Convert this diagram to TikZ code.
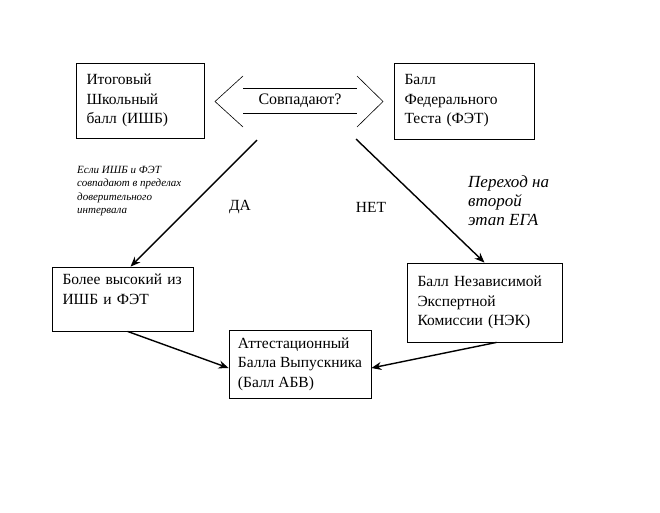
\documentclass[tikz,border=0pt]{standalone}
\usepackage{fontspec}
\setmainfont{Liberation Serif}
\usetikzlibrary{arrows.meta}

\begin{document}
\begin{tikzpicture}[x=1pt, y=-1pt,
    box/.style={draw, line width=0.8pt, align=left, inner xsep=10.5pt,
      font=\fontsize{15.5}{19.5}\selectfont},
    flow/.style={line width=1.4pt, -{Stealth[length=10pt, width=8pt]}},
    note/.style={align=left, anchor=north west, inner sep=0pt},
    word/.style={font=\fontsize{15.5}{19}\selectfont}
  ]
  \useasboundingbox (0,0) rectangle (660,512);

  % the five score boxes
  \node[box, text width=107pt, minimum height=75pt] (ishb) at (140,100.5)
    {Итоговый\\Школьный\\балл (ИШБ)};
  \node[box, text width=119pt, minimum height=76pt] (fet) at (464,101)
    {Балл\\Федерального\\Теста (ФЭТ)};
  \node[box, text width=120pt, minimum height=64pt] (higher) at (122.5,299)
    {Более высокий из\\ИШБ и ФЭТ\\\mbox{}};
  \node[box, text width=134pt, minimum height=79pt] (nek) at (484.5,302.5)
    {Балл Независимой\\Экспертной\\Комиссии (НЭК)};
  \node[box, inner xsep=2pt, minimum width=142pt, minimum height=68pt] (abv) at (300,364)
    {Аттестационный\\Балла Выпускника\\(Балл АБВ)};

  % double arrow between the two scores
  \node[font=\fontsize{16}{18}\selectfont] (match) at (300,101) {Совпадают?};
  \draw[line width=0.6pt] (243,76) -- (215,101.5) -- (243,127)
    (357,76) -- (383,101.5) -- (357,127);
  \draw[line width=0.9pt] (243,88.5) -- (357,88.5) (243,113.5) -- (357,113.5);

  \coordinate (yes) at (257,140);
  \coordinate (no) at (356,139);

  \draw[flow] (yes) -- ([xshift=8pt]higher.north);
  \draw[flow] (no) -- (nek.north);
  \draw[flow] ([xshift=5pt]higher.south) -- ([yshift=-4pt]abv.west);
  \draw[flow] ([xshift=12pt]nek.south) -- ([yshift=-4pt]abv.east);

  % labels
  \node[word] (da) at (240,207) {ДА};
  \node[word] (net) at (371,207) {НЕТ};
  \node[note, font=\itshape\fontsize{11}{13.3}\selectfont] (cond) at (77,166)
    {Если ИШБ и ФЭТ\\совпадают в пределах\\доверительного\\интервала};
  \node[note, font=\itshape\fontsize{17}{19}\selectfont] (stage) at (468,175)
    {Переход на\\второй\\этап ЕГА};
\end{tikzpicture}
\end{document}
